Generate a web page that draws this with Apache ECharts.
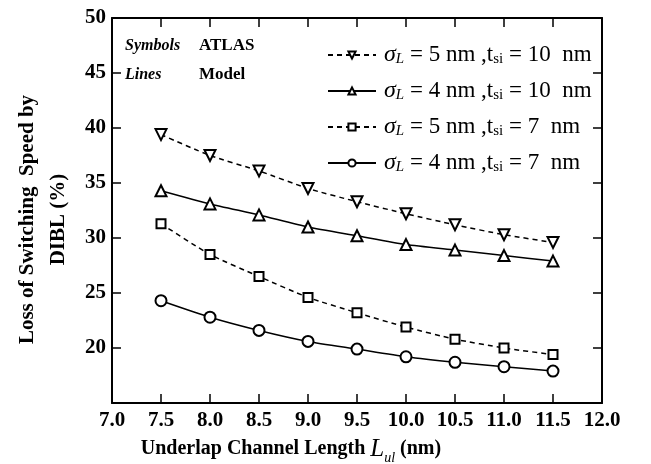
<!DOCTYPE html>
<html>
<head>
<meta charset="utf-8">
<script src="https://cdn.jsdelivr.net/npm/echarts@6/dist/echarts.min.js"></script>
<style>
  html, body { margin: 0; padding: 0; background: #fff; }
  #chart { width: 651px; height: 464px; }
</style>
</head>
<body>
<div id="chart"></div>
<script>
// Underlap length (nm) on x, loss of switching speed (%) on y
const lengths = [7.5, 8.0, 8.5, 9.0, 9.5, 10.0, 10.5, 11.0, 11.5];
const sigmaL = [5, 4, 5, 4];
const tSi = [10, 10, 7, 7];
const s5t10 = [39.4, 37.5, 36.1, 34.5, 33.3, 32.2, 31.2, 30.3, 29.6];
const s4t10 = [34.3, 33.1, 32.1, 31.0, 30.2, 29.4, 28.9, 28.4, 27.9];
const s5t7 = [31.3, 28.5, 26.5, 24.6, 23.2, 21.9, 20.8, 20.0, 19.4];
const s4t7 = [24.3, 22.8, 21.6, 20.6, 19.9, 19.2, 18.7, 18.3, 17.9];
const xTicks = [7.0, 7.5, 8.0, 8.5, 9.0, 9.5, 10.0, 10.5, 11.0, 11.5, 12.0];

const SERIF = '"Liberation Serif", "DejaVu Serif", serif';
const values = [s5t10, s4t10, s5t7, s4t7];
const symbols = ['emptyTriangle', 'emptyTriangle', 'emptyRect', 'emptyCircle'];
const rotations = [180, 0, 0, 0];
const dashed = [true, false, true, false];
const names = sigmaL.map((s, i) => `sigma${s}_t${tSi[i]}`);

const chart = echarts.init(document.getElementById('chart'));

const frameAxis = {
  axisLine: { lineStyle: { color: '#000', width: 2 } },
  axisTick: { inside: true, length: 9, lineStyle: { color: '#000', width: 1.5 } },
  splitLine: { show: false },
};

const note = (text, x, y, font) => ({
  type: 'text', x, y,
  style: { text, font: `${font} ${SERIF}`, fill: '#000', verticalAlign: 'middle' },
});

chart.setOption({
  backgroundColor: '#fff',
  animation: false,
  grid: { left: 112, right: 49, top: 18, bottom: 61, outerBoundsMode: 'none' },
  xAxis: [
    Object.assign({}, frameAxis, {
      type: 'value', min: 7, max: 12, interval: 0.5,
      axisLabel: {
        color: '#000', fontFamily: SERIF, fontWeight: 'bold', fontSize: 21, margin: 7,
        formatter: v => xTicks.find(t => Math.abs(t - v) < 1e-6).toFixed(1),
      },
      name: '{b|Underlap Channel Length }{i|L}{s|ul}{b| (nm)}',
      nameLocation: 'middle', nameGap: 34, nameMoveOverlap: false,
      nameTextStyle: {
        padding: [0, 132, 0, 0],
        rich: {
          b: { fontFamily: SERIF, fontWeight: 'bold', fontSize: 20, color: '#000', lineHeight: 24 },
          i: { fontFamily: SERIF, fontStyle: 'italic', fontSize: 25, color: '#000', lineHeight: 24 },
          s: { fontFamily: SERIF, fontStyle: 'italic', fontSize: 14, color: '#000', lineHeight: 14, verticalAlign: 'bottom', padding: [0, 0, -4, 0] },
        },
      },
    }),
    Object.assign({}, frameAxis, {
      type: 'value', position: 'top', min: 7, max: 12, interval: 0.5,
      axisLabel: { show: false },
    }),
  ],
  yAxis: [
    Object.assign({}, frameAxis, {
      type: 'value', min: 15, max: 50, interval: 5,
      axisLabel: {
        color: '#000', fontFamily: SERIF, fontWeight: 'bold', fontSize: 21, margin: 6,
        formatter: v => (v === 15 ? '' : String(v)),
      },
      name: 'Loss of Switching  Speed by\nDIBL (%)',
      nameLocation: 'middle', nameGap: 38, nameRotate: 90, nameMoveOverlap: false,
      nameTextStyle: {
        color: '#000', fontFamily: SERIF, fontWeight: 'bold', fontSize: 21, lineHeight: 31,
        padding: [0, 18, 0, 0],
      },
    }),
    Object.assign({}, frameAxis, {
      type: 'value', position: 'right', min: 15, max: 50, interval: 5,
      axisLabel: { show: false },
    }),
  ],
  legend: {
    orient: 'vertical', left: 322, top: 38,
    itemWidth: 48, itemHeight: 9, itemGap: 12,
    data: names,
    formatter: name => {
      const i = names.indexOf(name);
      return `{g|σ}{gs|L}{t| = ${sigmaL[i]} nm ,t}{ts|si}{t| = ${tSi[i]}  nm}`;
    },
    textStyle: {
      color: '#000',
      rich: {
        g: { fontFamily: SERIF, fontStyle: 'italic', fontSize: 24, lineHeight: 24, color: '#000', padding: [0, 0, 0, 3] },
        gs: { fontFamily: SERIF, fontStyle: 'italic', fontSize: 15, lineHeight: 14, verticalAlign: 'bottom', color: '#000' },
        t: { fontFamily: SERIF, fontSize: 23, lineHeight: 24, color: '#000' },
        ts: { fontFamily: SERIF, fontSize: 15, lineHeight: 14, verticalAlign: 'bottom', color: '#000' },
      },
    },
  },
  graphic: [
    note('Symbols', 125, 46, 'italic bold 16px'),
    note('ATLAS', 199, 46, 'bold 17px'),
    note('Lines', 125, 75, 'italic bold 16px'),
    note('Model', 199, 75, 'bold 17px'),
  ],
  series: values.map((vals, i) => ({
    name: names[i],
    type: 'line',
    data: lengths.map((x, j) => [x, vals[j]]),
    smooth: 0.2,
    symbol: symbols[i],
    symbolRotate: rotations[i],
    symbolSize: i === 2 ? 9 : 11,
    itemStyle: { color: '#000', borderColor: '#000', borderWidth: 1.3 },
    lineStyle: { color: '#000', width: 1.5, type: dashed[i] ? [5, 4] : 'solid' },
  })),
});
</script>
</body>
</html>
